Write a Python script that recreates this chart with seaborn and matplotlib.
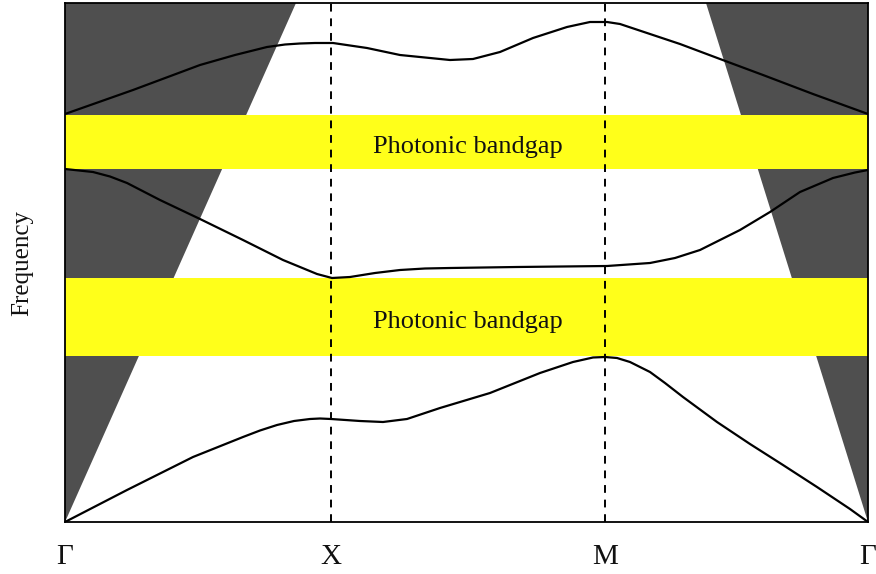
import numpy as np
import pandas as pd
import matplotlib
matplotlib.use("Agg")
import matplotlib.pyplot as plt
import seaborn as sns

# ---- data (arbitrary units) ----
# wavevector along path: Gamma=0, X=266, M=540, Gamma=803 ; frequency 0..519
tick_pos = [0, 266, 540, 803]
tick_labels = ["Γ", "X", "M", "Γ"]

band1_k = [0, 62, 128, 178, 195, 212, 229, 245, 255, 266, 295, 318, 342, 375, 425,
           475, 508, 528, 540, 552, 565, 585, 600, 618, 652, 685, 718, 752, 785, 803]
band1_f = [0, 32, 65, 85, 91.5, 97, 101, 103, 103.5, 103, 101, 100, 103, 114, 129,
           149, 160, 164.5, 165, 164, 160, 150, 139, 125, 100, 78, 57, 35, 13, 0]

band2_k = [0, 28, 45, 62, 95, 135, 178, 218, 252, 267, 285, 310, 335, 360, 385, 452,
           542, 585, 610, 635, 675, 705, 735, 768, 790, 803]
band2_f = [353, 350, 345.5, 339, 322, 303, 282, 262, 248, 244, 245, 249, 252, 253.5,
           254, 255, 256, 259, 264, 272, 292, 310, 330, 344, 349.5, 352]

band3_k = [0, 68, 135, 170, 202, 220, 235, 250, 268, 302, 335, 385, 408, 435, 468,
           502, 525, 542, 555, 582, 615, 655, 698, 748, 803]
band3_f = [408, 432, 457, 467, 475, 477.5, 478.5, 479, 479, 474, 467, 462, 463, 470,
           484, 495, 500, 500, 498, 489, 478, 463, 447, 428, 408]

gap_low = [166, 244]     # lower photonic bandgap (freq range)
gap_high = [353, 407]    # upper photonic bandgap
gap_label = "Photonic bandgap"

light_left_top = 231     # k where left light line hits top
light_right_top = 641    # k where right light line hits top
k_max = 803
f_max = 519

# ---- plotting ----
sns.set_theme(style="white")
plt.rcParams["font.family"] = ["Liberation Serif", "DejaVu Serif"]

fig = plt.figure(figsize=(8.76, 5.74), dpi=100)
ax = fig.add_axes([65 / 876, 52 / 574, 803 / 876, 519 / 574])
ax.set_xlim(0, k_max)
ax.set_ylim(0, f_max)

gray = "#4f4f4f"
# light cones
ax.fill([0, light_left_top, 0], [0, f_max, f_max], color=gray, lw=0, zorder=1)
ax.fill([k_max, light_right_top, k_max], [0, f_max, f_max], color=gray, lw=0, zorder=1)

# bandgaps
for lo, hi in (gap_low, gap_high):
    ax.axhspan(lo, hi, color="#ffff1a", lw=0, zorder=2)
    ax.text(403, (lo + hi) / 2 - 5, gap_label,
            ha="center", va="center", fontsize=19, color="#111111", zorder=5)

# symmetry lines
for xp in tick_pos[1:3]:
    ax.axvline(xp, color="black", lw=1.4, ls=(0, (4, 3.5)), zorder=3)

# bands
for kk, ff in ((band1_k, band1_f), (band2_k, band2_f), (band3_k, band3_f)):
    df = pd.DataFrame({"k": kk, "f": ff})
    sns.lineplot(data=df, x="k", y="f", sort=False, estimator=None,
                 color="black", lw=1.6, ax=ax, zorder=4)

ax.set_xticks(tick_pos)
ax.set_xticklabels(tick_labels, fontsize=21, color="#111111")
ax.set_yticks([])
ax.tick_params(axis="x", length=0, pad=16)
ax.set_xlabel("")
ax.set_ylabel("Frequency", fontsize=18, labelpad=23, color="#111111")
for s in ax.spines.values():
    s.set_color("black")
    s.set_linewidth(1.3)
    s.set_zorder(6)

fig.savefig("out.png", dpi=100)
